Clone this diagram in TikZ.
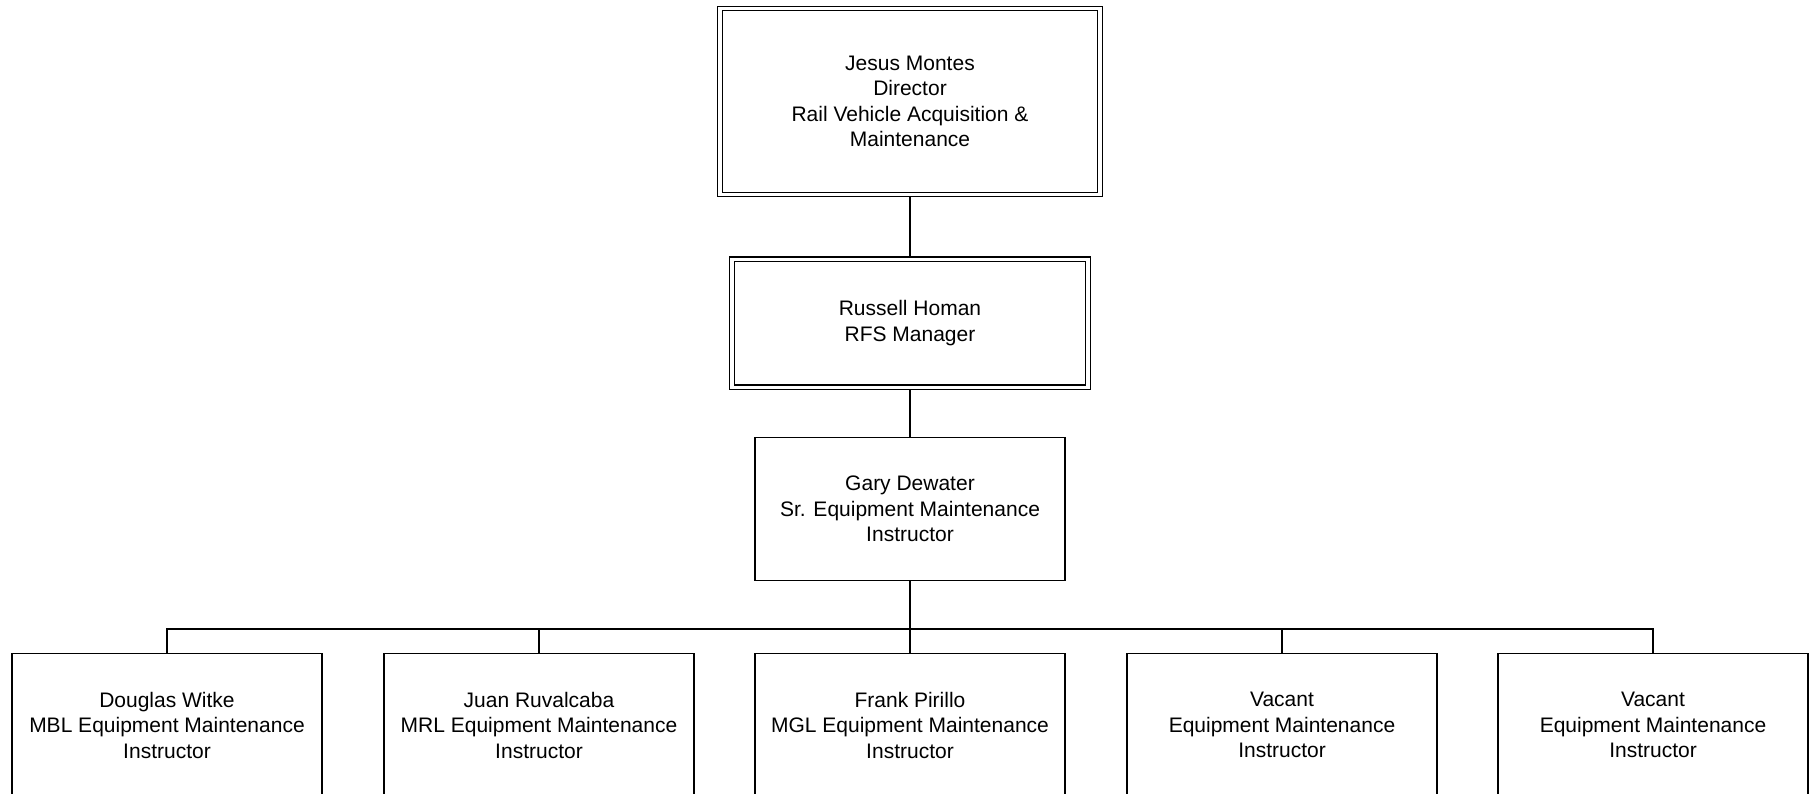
\documentclass[tikz,border=0pt]{standalone}
\usepackage{fontspec}
\setmainfont{Liberation Sans}
\usepackage{tikz}

\begin{document}
\begin{tikzpicture}[x=1pt, y=-1pt, line width=1.3pt]
	\tikzset{post/.style = {draw, align=center, inner sep=0pt, minimum width=310pt, minimum height=143pt, font=\fontsize{21}{25.5}\selectfont},
		head/.style = {post, double, double distance=3.2pt, outer sep=2.9pt}}
	\useasboundingbox (0,0) rectangle (1814,794);
	\clip (0,0) rectangle (1814,794);
	\node[head, minimum width=380pt, minimum height=186pt] (dir) at (910,101.5) {Jesus Montes\\Director\\Rail Vehicle Acquisition \&\\Maintenance};
	\node[head, minimum width=356pt, minimum height=128pt] (mgr) at (910,323.3) {Russell Homan\\RFS Manager};
	\node[post] (sup) at (910,509) {Gary Dewater\\Sr. Equipment Maintenance\\Instructor};
	\foreach \x/\who/\job [count=\i] in {167/Douglas Witke/MBL Equipment Maintenance, 539/Juan Ruvalcaba/MRL Equipment Maintenance, 910/Frank Pirillo/MGL Equipment Maintenance, 1282/Vacant/Equipment Maintenance, 1653/Vacant/Equipment Maintenance}{
		\node[post] (c\i) at (\x,725) {\who\\\job\\Instructor};
	}
	\coordinate (bus) at (910,629);
	\draw (dir) -- (mgr);
	\draw (mgr) -- (sup);
	\draw (sup) -- (bus);
	\foreach \i in {1,...,5}{
		\draw (bus) -| (c\i.north);
	}
\end{tikzpicture}
\end{document}
